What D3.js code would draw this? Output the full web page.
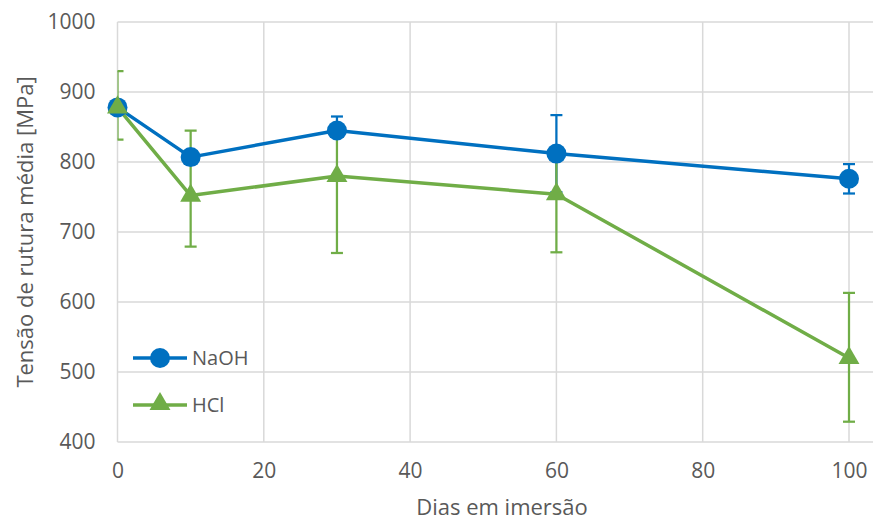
<!DOCTYPE html>
<html>
<head>
<meta charset="utf-8">
<script src="https://cdn.jsdelivr.net/npm/d3@7"></script>
<style>
  html, body { margin: 0; padding: 0; background: #fff; }
  svg text { font-family: "Open Sans", sans-serif; fill: #595959; }
</style>
</head>
<body>
<svg id="chart" width="875" height="522"></svg>
<script>
// Immersion days and mean rupture stress per solution
const days = [0, 10, 30, 60, 100];
const naohMean = [878, 807, 845, 812, 776];
const naohErrUp = [8, 8, 20, 55, 21];
const naohErrDown = [8, 8, 8, 55, 21];
const hclMean = [878, 752, 780, 754, 520];
const hclErrUp = [52, 93, 60, 60, 93];
const hclErrDown = [46, 73, 110, 83, 91];
const xTicks = [0, 20, 40, 60, 80, 100];
const yTicks = [400, 500, 600, 700, 800, 900, 1000];

const blue = "#0070C0";
const green = "#70AD47";
const grid = "#D9D9D9";

const svg = d3.select("#chart");
const plot = { left: 117.5, right: 873, top: 22, bottom: 442 };

const x = d3.scaleLinear().domain([0, 100]).range([117.5, 849]);
const y = d3.scaleLinear().domain([400, 1000]).range([plot.bottom, plot.top]);

// Gridlines
svg.append("g").selectAll("line").data(yTicks).join("line")
  .attr("x1", plot.left).attr("x2", plot.right)
  .attr("y1", d => y(d)).attr("y2", d => y(d))
  .attr("stroke", grid).attr("stroke-width", 1.5);
svg.append("g").selectAll("line").data(xTicks).join("line")
  .attr("x1", d => x(d)).attr("x2", d => x(d))
  .attr("y1", plot.top).attr("y2", plot.bottom)
  .attr("stroke", grid).attr("stroke-width", 1.5);

// Axes (labels only; lines are the gridlines above)
const yAxis = svg.append("g").attr("transform", `translate(${plot.left},0)`)
  .call(d3.axisLeft(y).tickValues(yTicks).tickFormat(d3.format("d")).tickSize(0).tickPadding(22));
const xAxis = svg.append("g").attr("transform", `translate(0,${plot.bottom})`)
  .call(d3.axisBottom(x).tickValues(xTicks).tickFormat(d3.format("d")).tickSize(0).tickPadding(21));
[yAxis, xAxis].forEach(a => {
  a.select(".domain").remove();
  a.selectAll("text").style("font-size", "21px").attr("fill", "#595959");
});

// Axis titles
svg.append("text")
  .attr("transform", `translate(33,232) rotate(-90)`)
  .attr("text-anchor", "middle")
  .style("font-size", "22px")
  .text("Tensão de rutura média [MPa]");
svg.append("text")
  .attr("x", 502).attr("y", 515)
  .attr("text-anchor", "middle")
  .style("font-size", "22px")
  .text("Dias em imersão");

// Clip error bars to the plot area
svg.append("clipPath").attr("id", "plotclip")
  .append("rect")
  .attr("x", plot.left).attr("y", 0)
  .attr("width", plot.right - plot.left).attr("height", plot.bottom);

const series = [
  { name: "NaOH", color: blue, mean: naohMean, up: naohErrUp, down: naohErrDown, marker: "circle" },
  { name: "HCl", color: green, mean: hclMean, up: hclErrUp, down: hclErrDown, marker: "triangle" }
];

const rows = s => days.map((d, i) => ({ d, v: s.mean[i], hi: s.mean[i] + s.up[i], lo: s.mean[i] - s.down[i] }));
const capW = 6;

// Error bars
series.forEach(s => {
  const g = svg.append("g").attr("clip-path", "url(#plotclip)")
    .attr("stroke", s.color).attr("stroke-width", 2.25).attr("fill", "none");
  const data = rows(s);
  g.selectAll(".v").data(data).join("line")
    .attr("x1", r => x(r.d)).attr("x2", r => x(r.d))
    .attr("y1", r => y(r.hi)).attr("y2", r => y(r.lo));
  g.selectAll(".t").data(data).join("line")
    .attr("x1", r => x(r.d) - capW).attr("x2", r => x(r.d) + capW)
    .attr("y1", r => y(r.hi)).attr("y2", r => y(r.hi));
  g.selectAll(".b").data(data).join("line")
    .attr("x1", r => x(r.d) - capW).attr("x2", r => x(r.d) + capW)
    .attr("y1", r => y(r.lo)).attr("y2", r => y(r.lo));
});

// Lines
const line = d3.line().x(r => x(r.d)).y(r => y(r.v));
series.forEach(s => {
  svg.append("path").datum(rows(s))
    .attr("d", line).attr("fill", "none")
    .attr("stroke", s.color).attr("stroke-width", 3.5)
    .attr("stroke-linejoin", "round");
});

// Markers
const circleSym = d3.symbol().type(d3.symbolCircle).size(Math.PI * 10 * 10);
const triSym = d3.symbol().type(d3.symbolTriangle).size(190);
function drawMarker(g, s, cx, cy) {
  g.append("path")
    .attr("d", s.marker === "circle" ? circleSym() : triSym())
    .attr("transform", `translate(${cx},${cy})`)
    .attr("fill", s.color);
}
series.forEach(s => {
  const g = svg.append("g");
  rows(s).forEach(r => drawMarker(g, s, x(r.d), y(r.v)));
});

// Legend
const legY = [358, 405];
series.forEach((s, i) => {
  const g = svg.append("g");
  g.append("line")
    .attr("x1", 133).attr("x2", 187)
    .attr("y1", legY[i]).attr("y2", legY[i])
    .attr("stroke", s.color).attr("stroke-width", 3.5);
  drawMarker(g, s, 160, legY[i] + (s.marker === "circle" ? 0 : -1));
  g.append("text")
    .attr("x", 192).attr("y", legY[i] + 7)
    .style("font-size", "20px")
    .text(s.name);
});
</script>
</body>
</html>
